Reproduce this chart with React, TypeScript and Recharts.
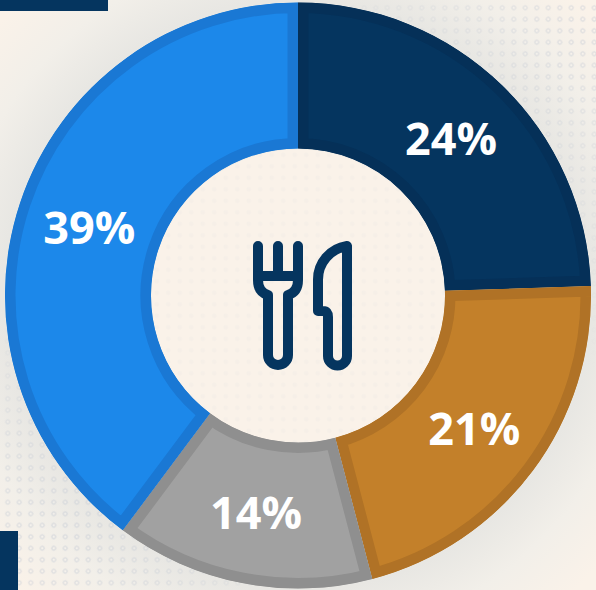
import { Pie, PieChart, Sector } from "recharts"

const categories = ["A", "B", "C", "D"]
const values = [24, 21, 14, 39]
const labels = ["24%", "21%", "14%", "39%"]
const fills = ["#05355F", "#C3802A", "#A1A1A1", "#1C88EA"]
const borders = ["#053058", "#B07226", "#8F8F8F", "#1A78D4"]

const data = categories.map((name, i) => ({ name, value: values[i], fill: fills[i] }))

const CX = 298
const CY = 295.5
const INNER = 147
const OUTER = 293
const RAD = Math.PI / 180

const DOTS = "radial-gradient(circle, rgba(255,255,255,0.15) 0 1px, rgba(190,197,210,0.38) 1.4px 2.3px, transparent 2.9px)"

// stroke is twice the visible width and clipped to the slice, so the border stays inside
function Slice(props: any) {
  const { cx, cy, innerRadius, outerRadius, startAngle, endAngle, index } = props
  const geo = { cx, cy, innerRadius, outerRadius, startAngle, endAngle }
  const id = `slice-clip-${index}`
  return (
    <g>
      <clipPath id={id}>
        <Sector {...geo} />
      </clipPath>
      <g clipPath={`url(#${id})`}>
        <Sector {...geo} fill={fills[index]} stroke={borders[index]} strokeWidth={21} />
      </g>
    </g>
  )
}

function SliceLabel(props: any) {
  const { cx, cy, midAngle, innerRadius, outerRadius, index } = props
  const r = (innerRadius + outerRadius) / 2
  return (
    <text
      x={cx + r * Math.cos(-midAngle * RAD)}
      y={cy + r * Math.sin(-midAngle * RAD)}
      fill="#FFFFFF"
      fontFamily="'Open Sans', sans-serif"
      fontWeight={700}
      fontSize={45}
      textAnchor="middle"
      dominantBaseline="central"
    >
      {labels[index]}
    </text>
  )
}

function CutleryIcon() {
  return (
    <svg
      width={596}
      height={590}
      style={{ position: "absolute", left: 0, top: 0 }}
      fill="none"
      stroke="#05355F"
      strokeWidth={10}
      strokeLinecap="round"
      strokeLinejoin="round"
    >
      <path d="M258 246 V280 Q258 292 268 295 V355 A10 10 0 0 0 288 355 V295 Q298 292 298 280 V246" />
      <path d="M278 246 V276 M258 276 H298" />
      <path d="M347 246 V356 A9.5 9.5 0 0 1 328 356 V317 Q328 311 323 311 H318 V280 A34 34 0 0 1 347 246 Z" />
    </svg>
  )
}

function dotLayer(mask: string) {
  return (
    <div
      style={{
        position: "absolute",
        inset: 0,
        backgroundImage: DOTS,
        backgroundSize: "11.5px 11.5px",
        backgroundPosition: "2px 2px",
        WebkitMaskImage: mask,
        maskImage: mask,
      }}
    />
  )
}

export default function App() {
  return (
    <div
      style={{
        position: "absolute",
        left: 0,
        top: 0,
        width: 596,
        height: 590,
        overflow: "hidden",
        background: "radial-gradient(circle at 298px 295px, #E6E5E2 0, #E8E7E3 296px, #F2EFE9 345px, #FAF2E9 405px)",
      }}
    >
      {dotLayer("radial-gradient(circle at 60px 540px, #000 0, rgba(0,0,0,0.7) 120px, transparent 260px)")}
      {dotLayer("radial-gradient(circle at 590px 30px, #000 0, rgba(0,0,0,0.6) 120px, transparent 340px)")}
      <div style={{ position: "absolute", left: 0, top: 0, width: 108, height: 11, background: "#05355F" }} />
      <div style={{ position: "absolute", left: 0, top: 531, width: 18, height: 59, background: "#05355F" }} />
      <div
        style={{
          position: "absolute",
          left: CX - INNER,
          top: CY - INNER,
          width: INNER * 2,
          height: INNER * 2,
          borderRadius: "50%",
          backgroundColor: "#FAF2E9",
          backgroundImage: "radial-gradient(circle, rgba(190,197,210,0.07) 0 2px, transparent 2.6px)",
          backgroundSize: "11.5px 11.5px",
        }}
      />
      <PieChart
        width={596}
        height={590}
        margin={{ top: 0, right: 0, bottom: 0, left: 0 }}
        style={{ position: "absolute", left: 0, top: 0 }}
      >
        <Pie
          data={data}
          dataKey="value"
          cx={CX}
          cy={CY}
          innerRadius={INNER}
          outerRadius={OUTER}
          startAngle={90}
          endAngle={-270}
          stroke="none"
          shape={Slice}
          label={SliceLabel}
          labelLine={false}
          isAnimationActive={false}
        />
      </PieChart>
      <CutleryIcon />
    </div>
  )
}
